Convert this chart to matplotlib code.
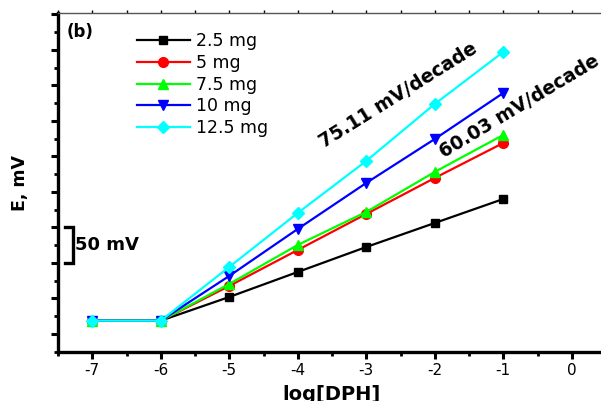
import matplotlib
matplotlib.use("Agg")
import matplotlib.pyplot as plt
from matplotlib.ticker import MultipleLocator, FixedLocator

plt.rcParams["font.family"] = ["DejaVu Sans"]
plt.rcParams["axes.unicode_minus"] = False

# log of DPH concentration
log_conc = [-7, -6, -5, -4, -3, -2, -1]

# electrode potential (mV, relative) for each ionophore loading
series_labels = ["2.5 mg", "5 mg", "7.5 mg", "10 mg", "12.5 mg"]
e_2_5 = [18.7, 18.7, 52.1, 87.3, 122.5, 156.3, 190.1]
e_5 = [18.7, 18.7, 67.6, 118.3, 169.0, 219.7, 269.0]
e_7_5 = [18.7, 18.7, 70.4, 125.4, 171.8, 228.2, 280.3]
e_10 = [18.7, 18.7, 81.7, 147.9, 212.7, 274.6, 339.4]
e_12_5 = [18.7, 18.7, 94.4, 170.4, 243.7, 323.9, 397.2]
series_values = [e_2_5, e_5, e_7_5, e_10, e_12_5]

slope_labels = ["75.11 mV/decade", "60.03 mV/decade"]
scale_bar_mv = 50

colors = ["#000000", "#ff0000", "#00ff00", "#0000ff", "#00ffff"]
markers = ["s", "o", "^", "v", "D"]
msizes = [6, 7, 7.5, 7.5, 6.5]

fig = plt.figure(figsize=(6.01, 4.01), dpi=100)
ax = fig.add_axes([58 / 601, 49 / 401, 548 / 601, 339 / 401])

for vals, lab, c, m, ms in zip(series_values, series_labels, colors, markers, msizes):
    ax.plot(log_conc, vals, color=c, marker=m, markersize=ms, linewidth=1.6,
            label=lab, clip_on=False)

ax.set_xlim(-7.5, 0.5)
ax.set_ylim(-25.4, 452.1)

ax.xaxis.set_major_locator(FixedLocator([-7, -6, -5, -4, -3, -2, -1, 0]))
ax.xaxis.set_minor_locator(MultipleLocator(0.5))
ax.set_xticklabels(["-7", "-6", "-5", "-4", "-3", "-2", "-1", "0"])
ax.yaxis.set_major_locator(MultipleLocator(50))
ax.yaxis.set_minor_locator(MultipleLocator(25))
ax.set_yticklabels([])

ax.tick_params(axis="both", which="major", direction="out", length=5, width=2.2,
               labelsize=11, pad=3)
ax.tick_params(axis="both", which="minor", direction="out", length=3, width=2)
ax.tick_params(axis="x", which="both", top=True, labeltop=False)

ax.spines["left"].set_linewidth(2.4)
ax.spines["bottom"].set_linewidth(2.4)
ax.spines["top"].set_linewidth(1.0)
ax.spines["top"].set_color("#555555")
ax.spines["right"].set_visible(False)

# top ticks: tiny and grey
for line in ax.xaxis.get_ticklines(minor=False)[1::2] + ax.xaxis.get_ticklines(minor=True)[1::2]:
    line.set_markersize(2)
    line.set_color("#555555")
    line.set_markeredgewidth(1)

ax.set_xlabel("log[DPH]", fontsize=14, fontweight="bold", labelpad=5)
ax.set_ylabel("E, mV", fontsize=12.5, fontweight="bold", labelpad=13)

ax.text(0.016, 0.97, "(b)", transform=ax.transAxes, fontsize=12,
        fontweight="bold", va="top", ha="left")

# 50 mV scale bracket
ax.plot([-7.40, -7.28, -7.28, -7.40], [150, 150, 150 - scale_bar_mv, 150 - scale_bar_mv],
        color="black", linewidth=2.4, clip_on=False, solid_joinstyle="miter")
ax.text(-7.25, 125, f"{scale_bar_mv} mV", fontsize=13, fontweight="bold",
        va="center", ha="left")

ax.text(-3.62, 262, slope_labels[0], fontsize=13.5, fontweight="bold",
        rotation=32, rotation_mode="anchor", ha="left", va="baseline")
ax.text(-1.87, 247, slope_labels[1], fontsize=13.5, fontweight="bold",
        rotation=31, rotation_mode="anchor", ha="left", va="baseline")

ax.legend(loc="upper left", bbox_to_anchor=((137 - 58) / 548, (352 - 32) / 339),
          frameon=False, fontsize=12.5, handlelength=3.05, handletextpad=0.35,
          labelspacing=0.22, borderpad=0, borderaxespad=0)

fig.savefig("out.png", dpi=100)
